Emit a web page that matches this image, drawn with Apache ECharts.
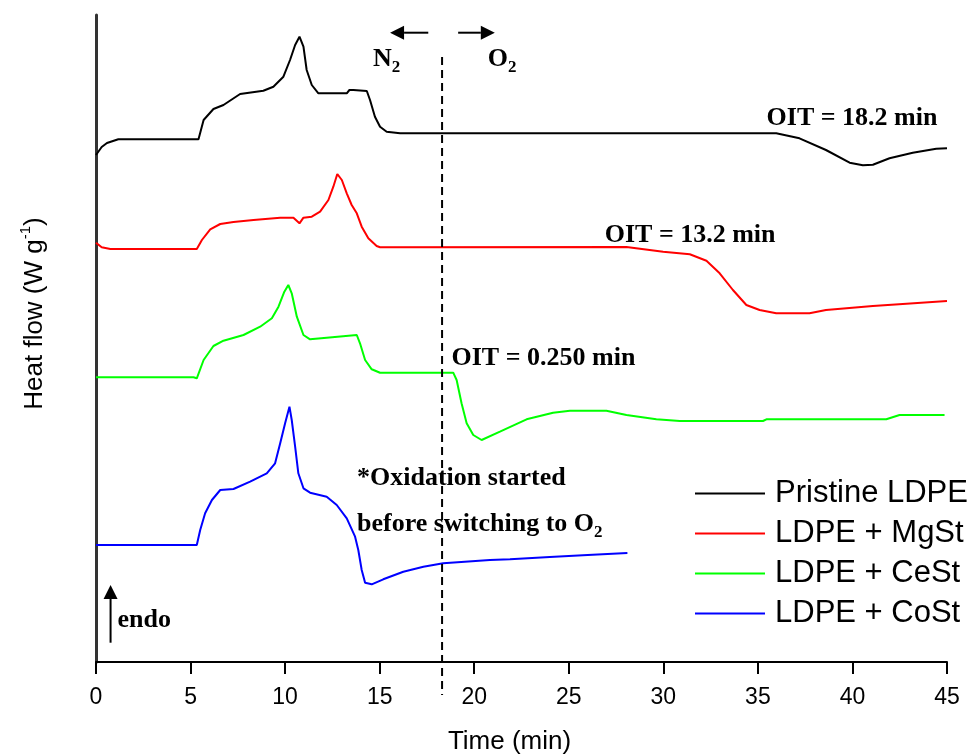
<!DOCTYPE html>
<html>
<head>
<meta charset="utf-8">
<script src="https://cdn.jsdelivr.net/npm/echarts@6/dist/echarts.min.js"></script>
<style>
  html, body { margin: 0; padding: 0; background: #fff; }
  #chart { width: 973px; height: 755px; }
</style>
</head>
<body>
<div id="chart"></div>
<script>
// DSC traces, [time (min), heat flow (arb. units, endo up)]
const names = ['Pristine LDPE', 'LDPE + MgSt', 'LDPE + CeSt', 'LDPE + CoSt'];
const colors = ['#000000', '#ff0000', '#00ff00', '#0000ff'];

const pristine = [[0,507],[0.3,515],[0.58,519],[1.18,522.7],[5.42,522.7],[5.69,542],[6.21,553],[6.74,557],[7.62,568],[8.85,571.3],[9.38,575.3],[9.91,585.3],[10.26,602],[10.53,617],[10.76,625.3],[10.97,615.3],[11.14,592],[11.41,577],[11.76,568.7],[13.26,568.7],[13.4,572],[13.61,572],[14.32,571],[14.49,562],[14.75,545.3],[15.02,535.3],[15.37,530.3],[16.08,528.7],[35.97,528.7],[37.2,523.7],[38.6,512],[39.85,499.3],[40.55,496.7],[41.08,497.3],[41.96,503.7],[43.19,509.3],[44.43,513.3],[45,513.7]];

const mgst = [[0,419.3],[0.3,414.7],[0.76,413],[5.33,413],[5.6,422],[6.04,432.7],[6.57,438],[7.27,440],[8.33,442],[9.74,444.3],[10.44,444.3],[10.76,438.7],[10.97,444.3],[11.41,445.3],[11.85,450.3],[12.29,462],[12.55,475.3],[12.76,488],[13.0,482],[13.26,468.7],[13.52,457],[13.79,448.7],[14.05,435.3],[14.4,423.7],[14.84,416],[15.02,414.7],[28.05,415],[29.99,410.3],[31.4,407.7],[32.28,401.3],[32.98,388.7],[33.68,372],[34.39,357],[35.09,352],[35.97,348.7],[37.73,348.7],[38.6,352],[41.08,356],[42.66,358],[45,361]];

const cest = [[0,284.7],[5.16,284.7],[5.33,283.7],[5.69,302],[6.21,316],[6.74,321.3],[7.8,327],[8.68,335.3],[9.3,343.7],[9.65,355.3],[9.96,370.3],[10.17,377],[10.35,368.7],[10.62,345.3],[10.97,327],[11.32,322.7],[12.2,324.3],[13.79,327],[13.96,318.7],[14.23,302],[14.58,292.7],[15.02,289.3],[18.89,289.3],[19.07,282],[19.33,258.7],[19.6,238.7],[19.95,227],[20.39,222],[21.36,230.3],[22.77,242.7],[24.17,249.3],[25.06,251.3],[26.99,251.3],[28.05,247],[29.63,242.7],[30.87,241],[35.27,241],[35.45,242.7],[41.79,242.7],[42.49,247],[44.87,247]];

const cost = [[0,117],[5.33,117],[5.51,132],[5.77,148.7],[6.13,162],[6.57,172],[7.27,173],[8.15,180.3],[9.03,188.7],[9.47,198.7],[9.74,218.7],[10.0,238.7],[10.23,255.3],[10.35,242],[10.53,215.3],[10.7,188.7],[10.97,173.7],[11.32,169.3],[12.2,165.3],[12.73,157],[13.26,143.7],[13.7,125.3],[13.87,112],[14.05,92],[14.23,79.3],[14.58,77.7],[15.19,82.7],[16.25,90.3],[17.31,95.3],[18.36,98.7],[20.83,102],[21.89,102.7],[24,105],[26,107],[28.1,109]];

const traces = [pristine, mgst, cest, cost];

// gas switch time (min)
const switchTime = 18.3;

// annotation anchors in data coordinates
const notes = [
  { text: 'OIT = 18.2 min', at: [35.46, 544] },
  { text: 'OIT = 13.2 min', at: [26.9, 427] },
  { text: 'OIT = 0.250 min', at: [18.8, 304] },
  { text: '*Oxidation started', at: [13.8, 184] },
  { text: 'before switching to O', sub: '2', at: [13.8, 137] },
  { text: 'N', sub: '2', at: [14.65, 602] },
  { text: 'O', sub: '2', at: [20.72, 602] },
  { text: 'endo', at: [1.14, 42] }
];
const arrows = [
  { from: [17.57, 629.3], to: [15.55, 629.3] },
  { from: [19.15, 629.3], to: [21.09, 629.3] },
  { from: [0.77, 19.3], to: [0.77, 77] }
];

let chartDom = document.getElementById('chart');
let myChart = echarts.init(chartDom);

const serif = '"Liberation Serif", "Times New Roman", serif';
const sans = '"Liberation Sans", Arial, sans-serif';

let option = {
  animation: false,
  grid: { left: 96, right: 26, top: 15, bottom: 93, outerBoundsMode: 'none', containLabel: false },
  legend: {
    data: names,
    orient: 'vertical',
    left: 695,
    top: 478,
    padding: 0,
    icon: 'rect',
    itemWidth: 70,
    itemHeight: 2,
    itemGap: 9,
    textStyle: { fontSize: 31, fontFamily: sans, color: '#000', lineHeight: 30, padding: [0, 0, 0, 5] }
  },
  xAxis: {
    type: 'value',
    min: 0,
    max: 45,
    interval: 5,
    name: 'Time (min)',
    nameLocation: 'middle',
    nameGap: 67,
    nameTextStyle: { fontSize: 26, fontFamily: sans, color: '#000', padding: [0, 24, 0, 0] },
    axisLine: { lineStyle: { color: '#000', width: 2 } },
    axisTick: { length: 12, lineStyle: { color: '#000', width: 2 } },
    axisLabel: { fontSize: 23, fontFamily: sans, color: '#000', margin: 24 },
    splitLine: { show: false }
  },
  yAxis: {
    type: 'value',
    min: 0,
    max: 647,
    name: '{m|Heat flow (W g}{sup|-1}{m|)}',
    nameLocation: 'middle',
    nameGap: 48,
    nameTextStyle: {
      fontSize: 26, fontFamily: sans, color: '#000', padding: [0, 0, 0, 50],
      rich: {
        m: { fontSize: 26, fontFamily: sans, color: '#000', lineHeight: 30, verticalAlign: 'bottom' },
        sup: { fontSize: 15, fontFamily: sans, color: '#000', lineHeight: 12, verticalAlign: 'top' }
      }
    },
    axisLine: { show: true, lineStyle: { color: '#333', width: 3 } },
    axisTick: { show: false },
    axisLabel: { show: false },
    splitLine: { show: false }
  },
  series: traces.map(function (d, i) {
    return {
      name: names[i],
      type: 'line',
      data: d,
      symbol: 'none',
      showSymbol: false,
      lineStyle: { color: colors[i], width: 2 },
      itemStyle: { color: colors[i] }
    };
  })
};
myChart.setOption(option);

// annotations placed from data coordinates
function toPx(p) {
  return myChart.convertToPixel({ gridIndex: 0 }, p);
}
let g = [];
let dashTop = toPx([switchTime, 605]);
let dashBot = toPx([switchTime, -33]);
g.push({
  type: 'line', z: 100,
  shape: { x1: dashTop[0], y1: dashTop[1], x2: dashBot[0], y2: dashBot[1] },
  style: { stroke: '#000', lineWidth: 2, lineDash: [8, 5] }
});
notes.forEach(function (n) {
  let p = toPx(n.at);
  if (n.sub) {
    g.push({
      type: 'text', z: 100, x: p[0], y: p[1] - 14,
      style: {
        text: '{m|' + n.text + '}{s|' + n.sub + '}',
        align: 'left', verticalAlign: 'top',
        rich: {
          m: { fontSize: 26, fontWeight: 'bold', fontFamily: serif, fill: '#000', lineHeight: 28, verticalAlign: 'top' },
          s: { fontSize: 17, fontWeight: 'bold', fontFamily: serif, fill: '#000', lineHeight: 44, verticalAlign: 'middle' }
        }
      }
    });
  } else {
    g.push({
      type: 'text', z: 100, x: p[0], y: p[1],
      style: {
        text: n.text, fontSize: 26, fontWeight: 'bold', fontFamily: serif,
        fill: '#000', align: 'left', verticalAlign: 'middle'
      }
    });
  }
});
arrows.forEach(function (a) {
  let f = toPx(a.from), t = toPx(a.to);
  let dx = t[0] - f[0], dy = t[1] - f[1];
  let len = Math.sqrt(dx * dx + dy * dy);
  let ux = dx / len, uy = dy / len;
  let hl = 14, hw = 7;
  let bx = t[0] - ux * hl, by = t[1] - uy * hl;
  g.push({
    type: 'line', z: 100,
    shape: { x1: f[0], y1: f[1], x2: bx, y2: by },
    style: { stroke: '#000', lineWidth: 2 }
  });
  g.push({
    type: 'polygon', z: 100,
    shape: { points: [[t[0], t[1]], [bx - uy * hw, by + ux * hw], [bx + uy * hw, by - ux * hw]] },
    style: { fill: '#000' }
  });
});
myChart.setOption({ graphic: g });
</script>
</body>
</html>
